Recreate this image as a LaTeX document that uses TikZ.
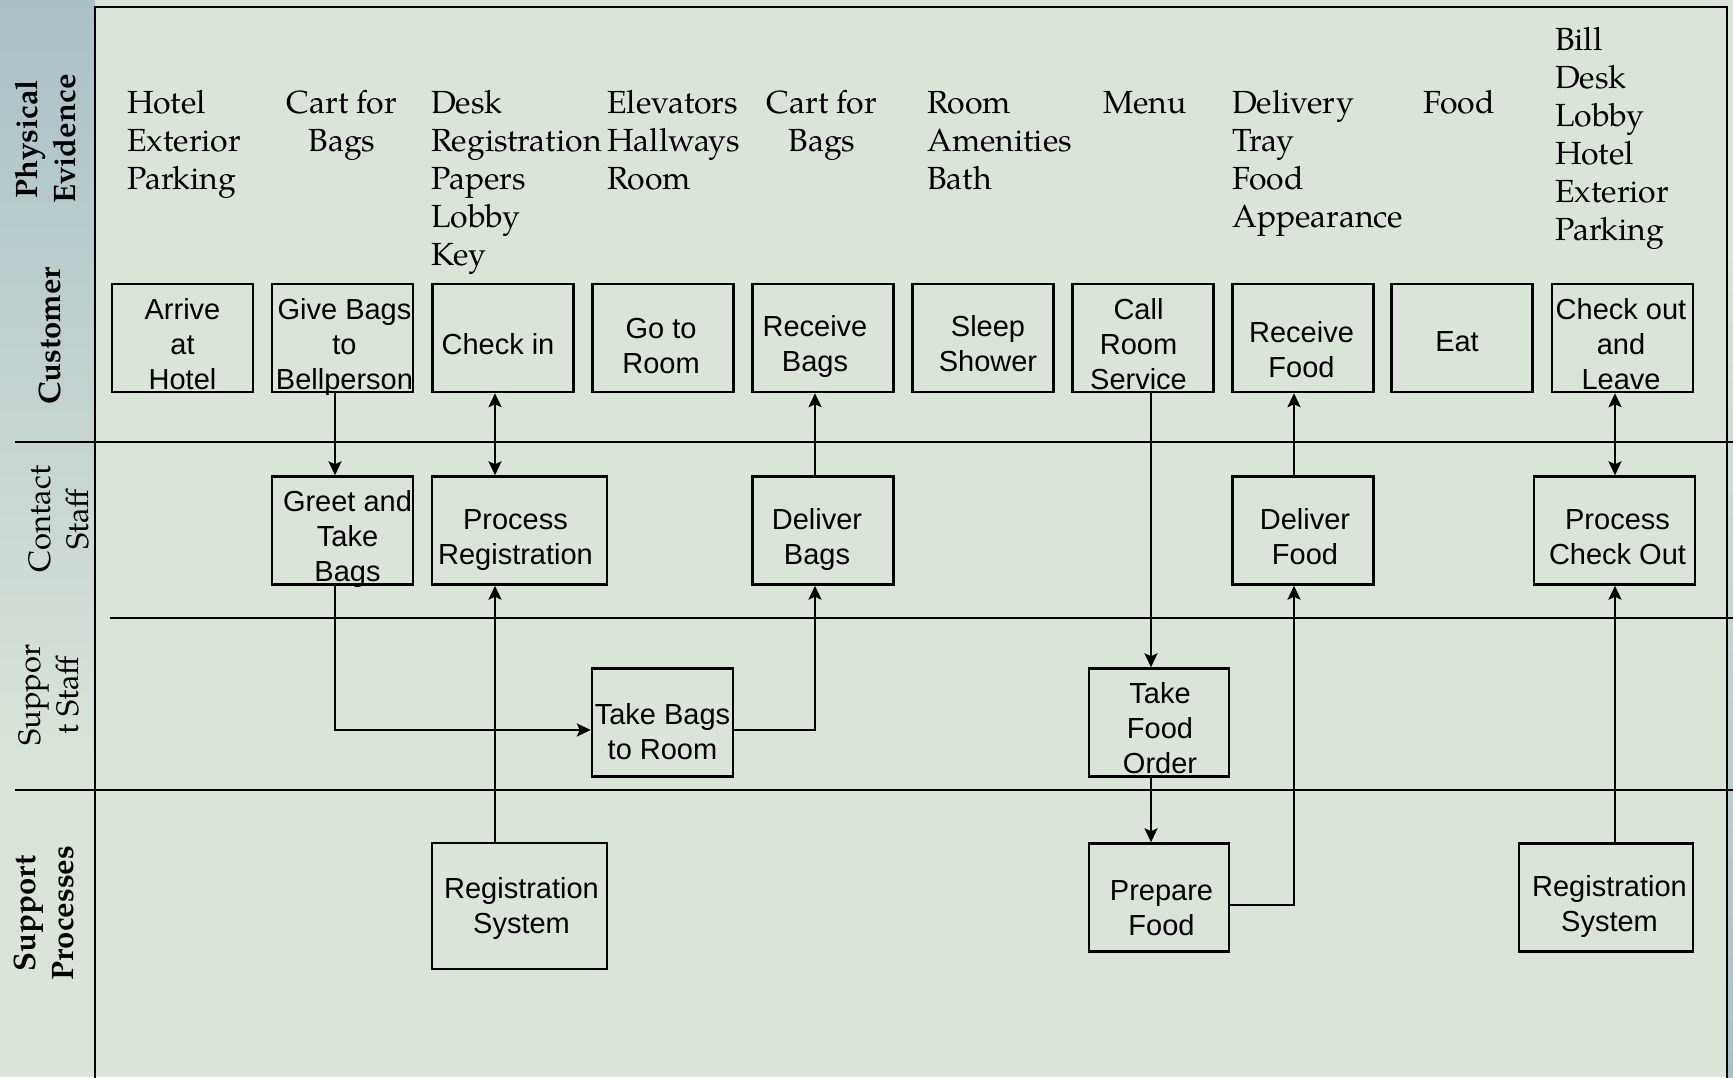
\documentclass[tikz,border=0pt]{standalone}
\usepackage{fontspec}
\newfontfamily\palfont{TeX Gyre Pagella}
\newfontfamily\arialfont{Liberation Sans}
\usetikzlibrary{arrows.meta}

\definecolor{pagebg}{RGB}{218,228,216}
\definecolor{stripbg}{RGB}{170,192,199}

% strut fixing the height of the first line of an evidence list
\newcommand\firstline{\rule{0pt}{24pt}}
% box label: centred lines, moved by (dx, dy) inside the box
\newcommand\boxtextxy[3]{\raisebox{#2}[\height][\depth]{\kern#1\begin{tabular}{@{}c@{}}#3\end{tabular}\kern-#1}}
\newcommand\boxtext[2][0pt]{\boxtextxy{#1}{-9pt}{#2}}

\tikzset{
  lane/.style={line width=2.4pt},
  stepbox/.style={draw, line width=2.4pt, inner sep=0pt, minimum width=141pt,
    minimum height=108pt, font=\arialfont\fontsize{29}{35}\selectfont},
  flow/.style={line width=2.4pt, -{Stealth[length=14pt,width=13pt,inset=3pt]}},
  flowboth/.style={line width=2.4pt, {Stealth[length=14pt,width=13pt,inset=3pt]}-{Stealth[length=14pt,width=13pt,inset=3pt]}},
  evid/.style={font=\palfont\fontsize{32}{38}\selectfont, inner sep=0pt,
    align=left, anchor=north west},
  evidc/.style={evid, align=center, anchor=north},
  lanelabel/.style={font=\palfont\fontsize{31}{38}\selectfont, rotate=90,
    align=center, inner sep=0pt},
  lanelabelb/.style={lanelabel, font=\palfont\fontsize{31}{38}\selectfont\bfseries},
}

\begin{document}
\begin{tikzpicture}[x=1pt, y=-1pt]
\useasboundingbox (0,0) rectangle (1733,1077);

% background and side strips
\fill[pagebg] (0,0) rectangle (1733,1077);
\shade[top color=stripbg, bottom color=pagebg] (0,0) rectangle (95,760);
\shade[top color=pagebg, bottom color=stripbg] (1727,250) rectangle (1733,1077);

% frame and lane separators
\draw[lane] (95,1080) -- (95,7) -- (1727,7) -- (1727,1080);
\draw[lane] (15,442) -- (1733,442);
\draw[lane] (110,618) -- (1733,618);
\draw[lane] (15,790) -- (1733,790);

% lane titles
\node[lanelabelb] (lpe) at (46,139) {Physical\\Evidence};
\node[lanelabelb] (lcu) at (50,336) {Customer};
\node[lanelabel]  (lcs) at (59,519) {Contact\\Staff};
\node[lanelabel]  (lss) at (49,695) {Suppor\\t Staff};
\node[lanelabelb] (lsp) at (44,913) {Support\\Processes};

% physical evidence
\node[evid]  (ev1)  at (127,89)  {\firstline Hotel\\Exterior\\Parking};
\node[evidc] (ev2)  at (342,89)  {\firstline Cart for\\Bags};
\node[evid]  (ev3)  at (431,89)  {\firstline Desk\\Registration\\Papers\\Lobby\\Key};
\node[evid]  (ev4)  at (607,89)  {\firstline Elevators\\Hallways\\Room};
\node[evidc] (ev5)  at (822,89)  {\firstline Cart for\\Bags};
\node[evid]  (ev6)  at (927,89)  {\firstline Room\\Amenities\\Bath};
\node[evid]  (ev7)  at (1103,89) {\firstline Menu};
\node[evid]  (ev8)  at (1232,89) {\firstline Delivery\\Tray\\Food\\Appearance};
\node[evid]  (ev9)  at (1423,89) {\firstline Food};
\node[evid]  (ev10) at (1555,26) {\firstline Bill\\Desk\\Lobby\\Hotel\\Exterior\\Parking};

% customer actions
\node[stepbox] (arrive)   at (182.5,338) {\boxtext{Arrive\\at\\Hotel}};
\node[stepbox] (give)     at (342.5,338) {\boxtext[2pt]{Give Bags\\to\\Bellperson}};
\node[stepbox] (checkin)  at (503,338)   {\boxtext[-5pt]{Check in}};
\node[stepbox] (goroom)   at (663,338)   {\boxtextxy{-2pt}{-11pt}{Go to\\Room}};
\node[stepbox] (recbags)  at (823,338)   {\boxtext[-8pt]{Receive\\Bags}};
\node[stepbox] (sleep)    at (983,338)   {\boxtext[5pt]{Sleep\\Shower}};
\node[stepbox] (call)     at (1143,338)  {\boxtext[-4.5pt]{Call\\Room\\Service}};
\node[stepbox] (recfood)  at (1303,338)  {\boxtextxy{-1.5pt}{-14.5pt}{Receive\\Food}};
\node[stepbox] (eat)      at (1462,338)  {\boxtextxy{-5pt}{-6pt}{Eat}};
\node[stepbox] (checkout) at (1622.5,338){\boxtext[-1.5pt]{Check out\\and\\Leave}};

% contact staff
\node[stepbox] (greet)     at (342.5,530.5) {\boxtext[5pt]{Greet and\\Take\\Bags}};
\node[stepbox, minimum width=175pt] (procreg) at (519.5,530.5) {\boxtext[-4pt]{Process\\Registration}};
\node[stepbox] (delbags)   at (823,530.5)  {\boxtext[-6pt]{Deliver\\Bags}};
\node[stepbox] (delfood)   at (1303,530.5) {\boxtext[2pt]{Deliver\\Food}};
\node[stepbox, minimum width=161pt] (proccheck) at (1614.5,530.5) {\boxtext[3pt]{Process\\Check Out}};

% support staff
\node[stepbox] (takebags) at (662.5,722.5) {\boxtextxy{0pt}{-12pt}{Take Bags\\to Room}};
\node[stepbox, minimum width=140pt] (takefood) at (1159,722.5) {\boxtext[1pt]{Take\\Food\\Order}};

% support processes
\node[stepbox, minimum width=175pt, minimum height=126pt] (regsysa) at (519.5,906) {\boxtextxy{2pt}{-2.5pt}{Registration\\System}};
\node[stepbox, minimum width=140pt] (prepfood) at (1159,897.5) {\boxtextxy{2.5pt}{-13.5pt}{Prepare\\Food}};
\node[stepbox, minimum width=174pt] (regsysb) at (1606,897.5) {\boxtext[3.5pt]{Registration\\System}};

% connector columns and rows
\coordinate (ca) at (335,0);
\coordinate (cb) at (495,0);
\coordinate (cc) at (815,0);
\coordinate (cd) at (1151,0);
\coordinate (ce) at (1294,0);
\coordinate (cf) at (1615,0);
\coordinate (rbags) at (0,730);
\coordinate (rfood) at (0,905);

% connectors
\draw[flow]     (give.south -| ca)     -- (greet.north -| ca);
\draw[flowboth] (checkin.south -| cb)  -- (procreg.north -| cb);
\draw[flow]     (delbags.north -| cc)  -- (recbags.south -| cc);
\draw[flow]     (call.south -| cd)     -- (takefood.north -| cd);
\draw[flow]     (delfood.north -| ce)  -- (recfood.south -| ce);
\draw[flowboth] (checkout.south -| cf) -- (proccheck.north -| cf);
\draw[flow]     (greet.south -| ca) |- (takebags.west |- rbags);
\draw[flow]     (takebags.east |- rbags) -| (delbags.south -| cc);
\draw[flow]     (regsysa.north -| cb)  -- (procreg.south -| cb);
\draw[flow]     (takefood.south -| cd) -- (prepfood.north -| cd);
\draw[flow]     (prepfood.east |- rfood) -| (delfood.south -| ce);
\draw[flow]     (regsysb.north -| cf)  -- (proccheck.south -| cf);
\end{tikzpicture}
\end{document}
